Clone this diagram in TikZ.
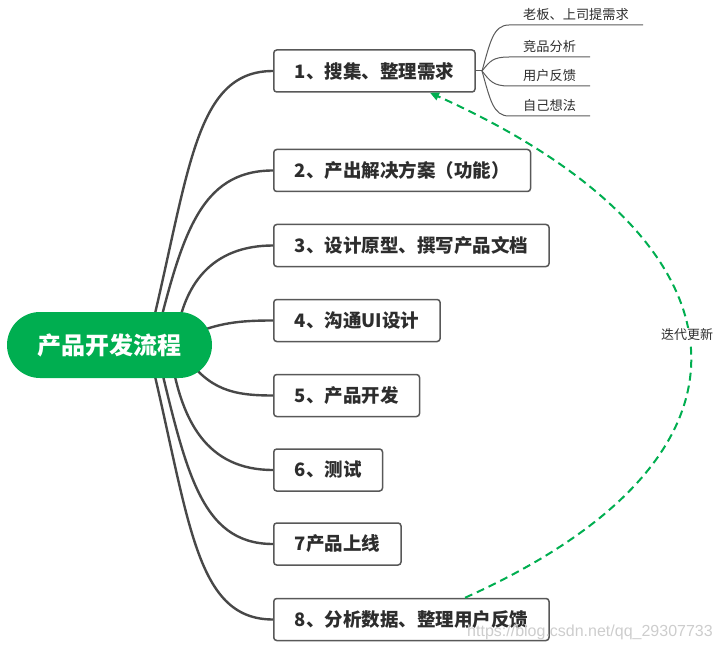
\documentclass[tikz,border=0pt]{standalone}
\usepackage{fontspec}
\setmainfont{Noto Sans CJK SC}
\newfontfamily\wmfont{Liberation Sans}
\usetikzlibrary{arrows.meta,backgrounds}
\definecolor{rootgreen}{RGB}{0,174,80}
\definecolor{linegray}{RGB}{72,72,72}
\definecolor{boxgray}{RGB}{88,88,88}
\definecolor{textdark}{RGB}{45,45,45}
\definecolor{subgray}{RGB}{90,90,90}
\definecolor{wmgray}{RGB}{205,205,205}
\tikzset{
  rootbox/.style={fill=rootgreen, rounded corners=33pt, minimum width=205pt, minimum height=66pt,
    text=white, font=\fontsize{24pt}{28pt}\selectfont\bfseries, inner sep=0pt},
  stepbox/.style={draw=boxgray, line width=1.5pt, fill=white, rounded corners=3pt, anchor=west,
    minimum height=42pt, inner xsep=21pt, inner ysep=0pt, text=textdark,
    font=\fontsize{18.5pt}{22pt}\selectfont\bfseries},
  subbox/.style={anchor=south west, inner xsep=14pt, inner ysep=2pt, text height=10pt, text depth=3pt,
    text=textdark, font=\fontsize{13.2pt}{15pt}\selectfont},
  branch/.style={draw=linegray, line width=2.4pt},
  subline/.style={draw=subgray, line width=1pt},
  fb/.style={draw=rootgreen, line width=2pt, dash pattern=on 8pt off 5pt,
    -{Triangle[length=9pt,width=8pt]}},
  fblabel/.style={fill=white, inner sep=1pt, text=textdark, font=\fontsize{13pt}{15pt}\selectfont},
}
\begin{document}
\begin{tikzpicture}[x=1pt,y=-1pt]
\useasboundingbox (0,0) rectangle (721,650);

% root
\node[rootbox] (root) at (109.5,345) {产品开发流程};

% steps
\node[stepbox] (b1) at (273,71) {1、搜集、整理需求};
\node[stepbox] (b2) at (273,170.5) {2、产出解决方案（功能）};
\node[stepbox] (b3) at (273,245.5) {3、设计原型、撰写产品文档};
\node[stepbox] (b4) at (273,320.5) {4、沟通UI设计};
\node[stepbox] (b5) at (273,395.5) {5、产品开发};
\node[stepbox] (b6) at (273,470) {6、测试};
\node[stepbox] (b7) at (273,544) {7产品上线};
\node[stepbox] (b8) at (273,619.5) {8、分析数据、整理用户反馈};

% sub topics of step 1
\coordinate (fork) at (482,71);
\node[subbox] (s1) at (509,25) {老板、上司提需求};
\node[subbox] (s2) at (509,57) {竞品分析};
\node[subbox] (s3) at (509,86) {用户反馈};
\node[subbox] (s4) at (509,116) {自己想法};

\begin{scope}[on background layer]
\draw[branch] ([xshift=38pt]root.center) .. controls +(42,-170) and +(-80,0) .. (b1.west);
\draw[branch] ([xshift=45pt]root.center) .. controls +(27,-108) and +(-74,0) .. (b2.west);
\draw[branch] ([xshift=66pt]root.center) .. controls +(6,-62) and +(-60,0) .. (b3.west);
\draw[branch] ([xshift=80pt,yshift=10pt]root.center) .. controls +(30,-12) and +(-35,0) .. (b4.west);
\draw[branch] ([xshift=75pt,yshift=-10pt]root.center) .. controls +(25,35) and +(-40,0) .. (b5.west);
\draw[branch] ([xshift=60pt]root.center) .. controls +(10,78) and +(-65,0) .. (b6.west);
\draw[branch] ([xshift=46pt]root.center) .. controls +(30,123) and +(-74,0) .. (b7.west);
\draw[branch] ([xshift=38pt]root.center) .. controls +(42,170) and +(-80,0) .. (b8.west);
\end{scope}

\draw[subline] (b1.east) -- (fork);
\draw[subline] (fork) .. controls +(8,-28) and +(-16,0) .. (s1.south west) -- (s1.south east);
\draw[subline] (fork) .. controls +(8,-10) and +(-16,0) .. (s2.south west) -- (s2.south east);
\draw[subline] (fork) .. controls +(8,10) and +(-16,0) .. (s3.south west) -- (s3.south east);
\draw[subline] (fork) .. controls +(8,28) and +(-16,0) .. (s4.south west) -- (s4.south east);

% feedback loop
\draw[fb] ([xshift=192pt]b8.north west) .. controls +(323,-145) and +(323,145) .. ([xshift=157pt]b1.south west);
\node[fblabel] (lbl) at (687,335) {迭代更新};

% watermark
\node[text=wmgray, font=\wmfont\fontsize{16pt}{18pt}\selectfont, inner sep=0pt] (wm) at (590,632) {https://blog.csdn.net/qq\_29307733};
\end{tikzpicture}
\end{document}
